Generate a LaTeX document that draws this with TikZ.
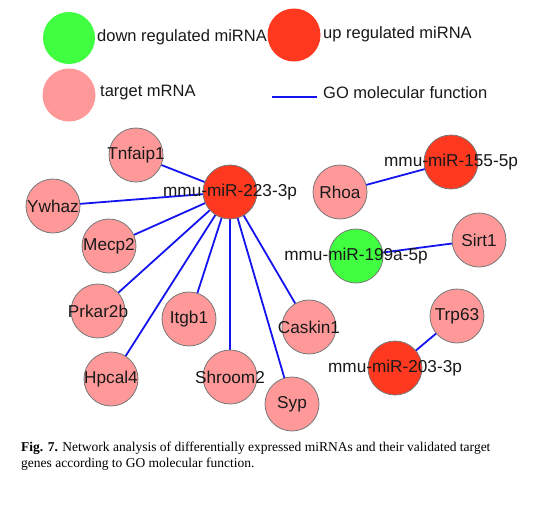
\documentclass[tikz,border=0pt]{standalone}
\usepackage{fontspec}
\setmainfont{Liberation Serif}
\newfontfamily\lblfont{Liberation Sans}
\pgfdeclarelayer{paper}
\pgfdeclarelayer{edgelayer}
\pgfsetlayers{paper,edgelayer,main}
\definecolor{upred}{RGB}{255,56,32}
\definecolor{downgreen}{RGB}{64,255,64}
\definecolor{tpink}{RGB}{255,153,153}
\definecolor{rimgrey}{RGB}{120,120,120}
\definecolor{edgeblue}{RGB}{20,20,240}
\tikzset{
  gnode/.style={circle,minimum size=54pt,inner sep=0pt,draw=rimgrey,line width=0.8pt},
  upnode/.style={gnode,fill=upred},
  downnode/.style={gnode,fill=downgreen},
  tnode/.style={gnode,fill=tpink},
  lbl/.style={font=\lblfont\fontsize{17.2}{20}\selectfont,text=black!90,inner sep=0pt},
  legdot/.style={circle,minimum size=50pt,inner sep=0pt,draw=none},
  legtxt/.style={font=\lblfont\fontsize{16.5}{19}\selectfont,text=black!90,anchor=west,inner sep=0pt},
  edge/.style={draw=edgeblue,line width=1.8pt},
}
\begin{document}
\begin{tikzpicture}[x=1pt,y=-1pt]
\begin{pgfonlayer}{paper}
\fill[white] (0,0) rectangle (558,520);
\end{pgfonlayer}
\useasboundingbox (0,0) rectangle (558,520);
% legend
\node[legdot,fill=downgreen,minimum width=48pt,minimum height=52pt] (lgdown) at (69,38) {};
\node[legtxt] (lgdowntxt) at (97,37) {down regulated miRNA};
\node[legdot,fill=upred,minimum width=49pt,minimum height=53pt] (lgup) at (294,35) {};
\node[legtxt] (lguptxt) at (323,34) {up regulated miRNA};
\node[legdot,fill=tpink,minimum width=48pt,minimum height=53pt] (lgt) at (69,95) {};
\node[legtxt] (lgttxt) at (100,93) {target mRNA};
\coordinate (lgl1) at (272,97);
\coordinate (lgl2) at (317,97);
\draw[edge,line width=1.5pt] (lgl1) -- (lgl2);
\node[legtxt] (lggotxt) at (323,93) {GO molecular function};
% miRNA nodes
\node[upnode,label={[lbl]center:mmu-miR-223-3p}] (m223) at (230,192) {};
\node[upnode,label={[lbl]center:mmu-miR-155-5p}] (m155) at (451,162) {};
\node[downnode,label={[lbl]center:mmu-miR-199a-5p}] (m199) at (356,256) {};
\node[upnode,label={[lbl]center:mmu-miR-203-3p}] (m203) at (395,368) {};
% targets
\node[tnode,label={[lbl]center:Tnfaip1}] (tnfaip1) at (136,155) {};
\node[tnode,label={[lbl]center:Ywhaz}] (ywhaz) at (53,206) {};
\node[tnode,label={[lbl]center:Mecp2}] (mecp2) at (109,246) {};
\node[tnode,label={[lbl]center:Prkar2b}] (prkar2b) at (98,311) {};
\node[tnode,label={[lbl]center:Itgb1}] (itgb1) at (189,319) {};
\node[tnode,label={[lbl]center:Hpcal4}] (hpcal4) at (111,379) {};
\node[tnode,label={[lbl]center:Shroom2}] (shroom2) at (230,377) {};
\node[tnode,label={[lbl]center:Syp}] (syp) at (292,404) {};
\node[tnode,label={[lbl]center:Caskin1}] (caskin1) at (309,327) {};
\node[tnode,label={[lbl]center:Rhoa}] (rhoa) at (340,192) {};
\node[tnode,label={[lbl]center:Sirt1}] (sirt1) at (479,240) {};
\node[tnode,label={[lbl]center:Trp63}] (trp63) at (457,316) {};
% edges
\begin{pgfonlayer}{edgelayer}
\foreach \t in {tnfaip1,ywhaz,mecp2,prkar2b,itgb1,hpcal4,shroom2,syp,caskin1}
  \draw[edge] (m223.center) -- (\t.center);
\draw[edge] (m155.center) -- (rhoa.center);
\draw[edge] (m199.center) -- (sirt1.center);
\draw[edge] (m203.center) -- (trp63.center);
\end{pgfonlayer}
% caption
\node[anchor=base west,inner sep=0pt,font=\fontsize{13.5}{16}\selectfont,align=left] (cap) at (21,467)
  {\textbf{Fig. 7.} Network analysis of differentially expressed miRNAs and their validated target\\
   genes according to GO molecular function.};
\end{tikzpicture}
\end{document}
